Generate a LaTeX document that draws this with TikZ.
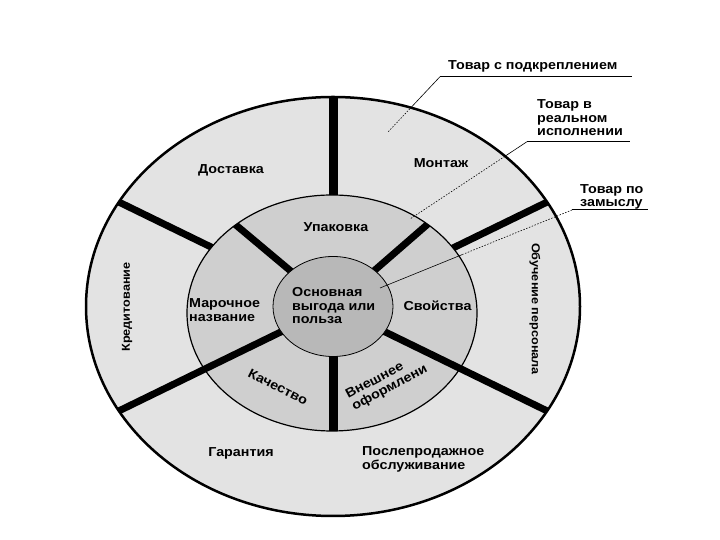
\documentclass[tikz,border=0pt]{standalone}
\usepackage{fontspec}
\setmainfont{Liberation Sans}[FakeStretch=1.1]
\usepackage{xcolor}
\usepackage{tikz}
\usetikzlibrary{calc}
\definecolor{ringout}{gray}{0.89}
\definecolor{ringmid}{gray}{0.81}
\definecolor{ringcore}{gray}{0.72}

\begin{document}
\begin{tikzpicture}[x=1pt,y=1pt,
  spoke/.style={line width=7pt},
  lbl/.style={font=\bfseries\fontsize{13}{13.5}\selectfont,inner sep=1pt},
  side/.style={font=\bfseries\fontsize{11.5}{12}\selectfont,inner sep=1pt},
  lead/.style={line width=0.6pt},
  leaddot/.style={line width=0.6pt,dash pattern=on 1.5pt off 1.5pt}]
\useasboundingbox[fill=white] (0,0) rectangle (720,540);
\coordinate (o) at (333,233.5);
\coordinate (m) at (332,227);
% outer ring
\fill[ringout] (o) ellipse [x radius=247,y radius=209.5];
\begin{scope}
\clip (o) ellipse [x radius=247,y radius=209.5];
\foreach \a in {26,154,206,334} \draw[spoke] (o) -- ++(\a:300);
\draw[spoke,line width=9pt] (o) -- ++(90:300);
\end{scope}
% middle ring
\filldraw[fill=ringmid,line width=1.2pt] (m) ellipse [x radius=145,y radius=118];
\node[lbl] (upak) at (336,313) {Упаковка};
\node[lbl,anchor=west,align=left] (marka) at (188,230) {Марочное\\название};
\node[lbl] (svojstva) at (437.5,234) {Свойства};
\node[lbl,rotate=-27] (kach) at (278,153) {Качество};
\node[lbl,rotate=28,anchor=west,align=left] (vnesh) at (349,137.5) {Внешнее\\оформлени};
\begin{scope}
\clip (m) ellipse [x radius=145,y radius=118];
\foreach \a in {41,140,206,334} \draw[spoke] (o) -- ++(\a:300);
\draw[spoke,line width=9pt] (o) -- ++(270:300);
\end{scope}
% core
\filldraw[fill=ringcore,line width=0.8pt] (o) ellipse [x radius=60,y radius=50];
\draw[line width=2.5pt] (o) ellipse [x radius=247,y radius=209.5];
\node[lbl,anchor=west,align=left] (osn) at (291,234.3) {Основная\\выгода или\\польза};
% outer labels
\node[lbl] (dost) at (231,370) {Доставка};
\node[lbl] (montazh) at (441,377) {Монтаж};
\node[side,rotate=90] (kredit) at (127,233) {Кредитование};
\node[side,rotate=-90] (obuch) at (535,231) {Обучение персонала};
\node[lbl] (garant) at (241,87) {Гарантия};
\node[lbl,anchor=west,align=left] (posle) at (361,80.5) {Послепродажное\\обслуживание};
% callouts
\node[lbl,anchor=base west] (podkr) at (447,470) {Товар с подкреплением};
\coordinate (podkr-l) at (440,463.3);
\coordinate (podkr-r) at (632,463.3);
\coordinate (podkr-e) at (388,408);
\draw[line width=1.6pt] (podkr-l) -- (podkr-r);
\draw[lead] (podkr-l) -- ($(podkr-l)!0.54!(podkr-e)$) coordinate (podkr-x);
\draw[leaddot] (podkr-x) -- (podkr-e);
\node[lbl,anchor=west,align=left] (real) at (536,422) {Товар в\\реальном\\исполнении};
\coordinate (real-l) at (527,398.3);
\coordinate (real-r) at (630,398.3);
\coordinate (real-e) at (410,321);
\draw[lead,line width=1pt] (real-l) -- (real-r);
\draw[lead] (real-l) -- ($(real-l)!0.19!(real-e)$) coordinate (real-x);
\draw[leaddot] (real-x) -- (real-e);
\node[lbl,anchor=west,align=left] (zamysl) at (579,343.3) {Товар по\\замыслу};
\coordinate (zamysl-l) at (572,330);
\coordinate (zamysl-r) at (648,330);
\coordinate (zamysl-e) at (380,252);
\draw[lead,line width=1pt] (zamysl-l) -- (zamysl-r);
\draw[leaddot] (zamysl-l) -- ($(zamysl-l)!0.57!(zamysl-e)$) coordinate (zamysl-x);
\draw[lead] (zamysl-x) -- (zamysl-e);
\end{tikzpicture}
\end{document}
